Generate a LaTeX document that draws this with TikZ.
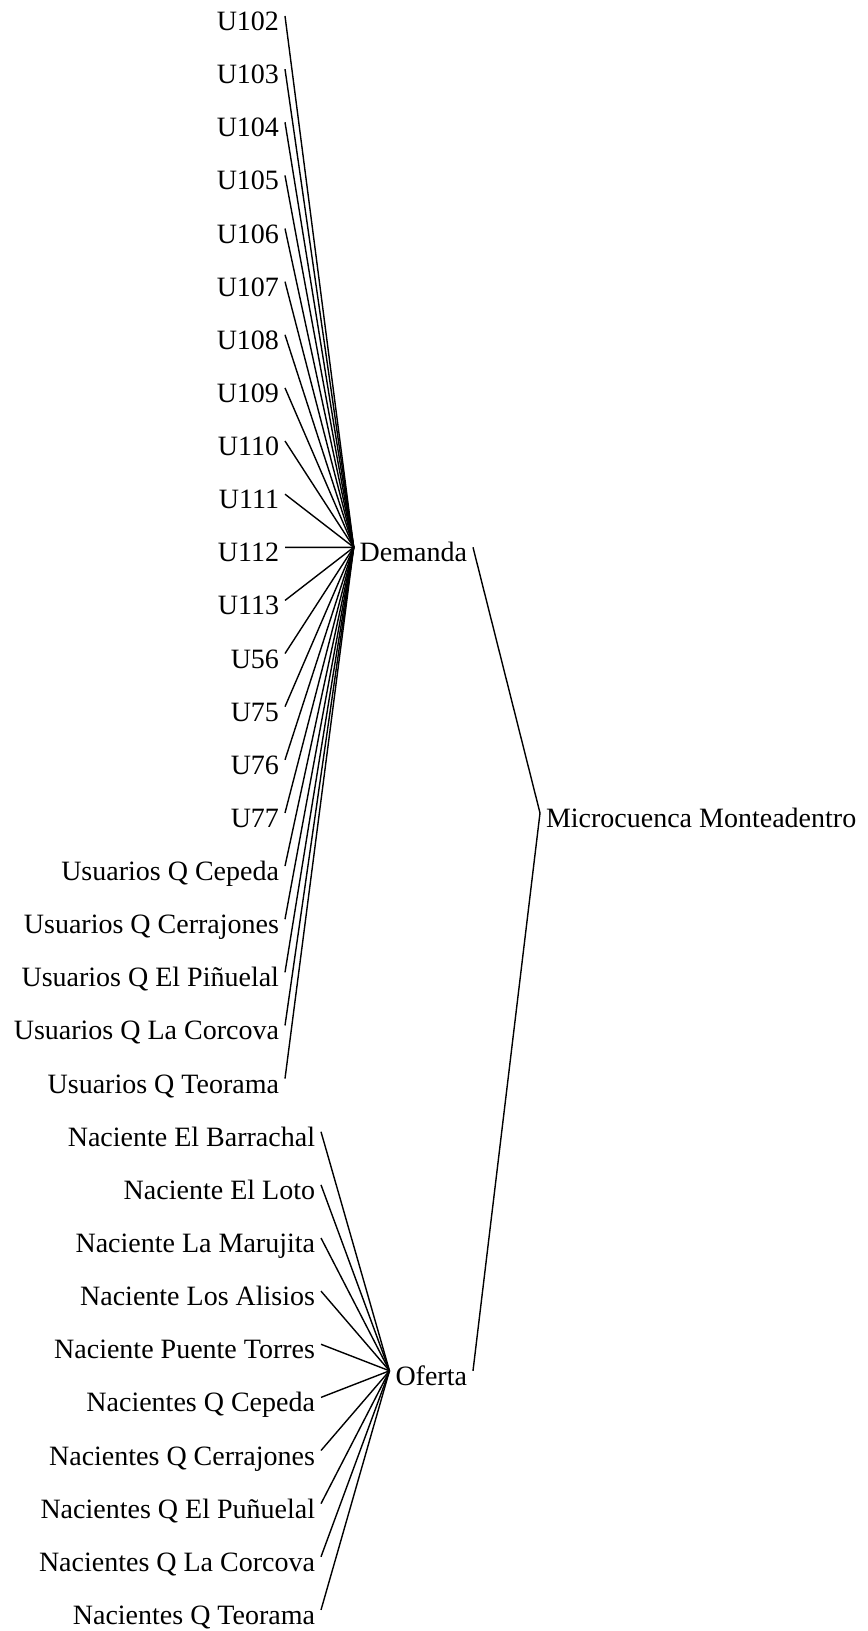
\documentclass[tikz,border=0pt]{standalone}
\usepackage{fontspec}
\setmainfont{Liberation Serif}
\begin{document}
\begin{tikzpicture}[x=0.5pt,y=-0.5pt,
  lbl/.style={inner xsep=3pt, inner ysep=0pt, outer sep=0pt, text height=14.5pt, text depth=0pt, font=\fontsize{14}{16}\selectfont},
  edge/.style={line width=0.7pt}]
\useasboundingbox (0,0) rectangle (867,1631);
\node[lbl,anchor=east] (dem) at (473,547.3) {Demanda};
\node[lbl,anchor=east] (ofe) at (473,1370.8) {Oferta};
\node[lbl,anchor=west] (mic) at (540,813) {Microcuenca Monteadentro};
\foreach [count=\i from 0] \t in {U102,U103,U104,U105,U106,U107,U108,U109,U110,U111,U112,U113,U56,U75,U76,U77,Usuarios Q Cepeda,Usuarios Q Cerrajones,Usuarios Q El Piñuelal,Usuarios Q La Corcova,Usuarios Q Teorama}{
  \node[lbl,anchor=east] (d\i) at (285,{16+53.13*\i}) {\t};
  \draw[edge] (d\i.east) -- (dem.west);
}
\foreach [count=\i from 21] \t in {Naciente El Barrachal,Naciente El Loto,Naciente La Marujita,Naciente Los Alisios,Naciente Puente Torres,Nacientes Q Cepeda,Nacientes Q Cerrajones,Nacientes Q El Puñuelal,Nacientes Q La Corcova,Nacientes Q Teorama}{
  \node[lbl,anchor=east] (o\i) at (321,{16+53.13*\i}) {\t};
  \draw[edge] (o\i.east) -- (ofe.west);
}
\draw[edge] (dem.east) -- (mic.west);
\draw[edge] (ofe.east) -- (mic.west);
\end{tikzpicture}
\end{document}
